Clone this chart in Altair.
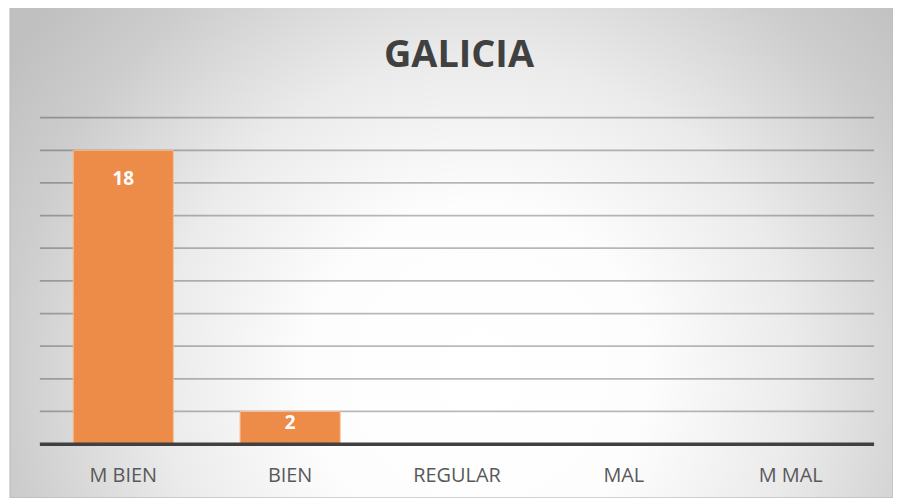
import altair as alt
import pandas as pd

categories = ["M BIEN", "BIEN", "REGULAR", "MAL", "M MAL"]
values = [18, 2, 0, 0, 0]
grid_values = [2, 4, 6, 8, 10, 12, 14, 16, 18, 20]
title_text = "GALICIA"

df = pd.DataFrame({"cat": categories, "v": values})
gdf = pd.DataFrame({"g": grid_values})

FONT = "Open Sans"

bg_gradient = {
    "gradient": "radial",
    "x1": 0.53, "y1": 0.64, "r1": 0,
    "x2": 0.53, "y2": 0.64, "r2": 0.64,
    "stops": [
        {"offset": 0.0, "color": "#ffffff"},
        {"offset": 0.3, "color": "#fdfdfd"},
        {"offset": 0.56, "color": "#ebebeb"},
        {"offset": 0.83, "color": "#cdcdcd"},
        {"offset": 1.0, "color": "#c0c0c0"},
    ],
}

yscale = alt.Scale(domain=[0, 20], nice=False)

background = alt.Chart(alt.Data(values=[{"k": 0}])).mark_rect(
    fill=bg_gradient, stroke="#b8b8b8", strokeWidth=1
).encode(
    x=alt.value(-30), x2=alt.value(857), y=alt.value(-113), y2=alt.value(382)
)

title = alt.Chart(alt.Data(values=[{"t": title_text}])).mark_text(
    font=FONT, fontSize=38, fontWeight="bold", color="#404040",
    baseline="alphabetic", align="center"
).encode(x=alt.value(421), y=alt.value(-51), text="t:N")

grid = alt.Chart(gdf).mark_rule(color="#000000", strokeOpacity=0.27, strokeWidth=1.75).encode(
    y=alt.Y("g:Q", scale=yscale, axis=None)
)

xenc = alt.X(
    "cat:N", sort=categories, title=None,
    scale=alt.Scale(paddingInner=0.4, paddingOuter=0.2),
    axis=alt.Axis(labelAngle=0, labelFont=FONT, labelFontSize=20, labelColor="#595959",
                  labelPadding=22, ticks=False, domain=False, grid=False, zindex=1),
)

bars = alt.Chart(df).mark_bar(color="#ED8C48", stroke="#F6BE95", strokeWidth=1).encode(
    x=xenc,
    y=alt.Y("v:Q", scale=yscale, title=None, axis=None),
)

labels = alt.Chart(df).transform_filter("datum.v > 0").transform_calculate(
    lab="datum.v - (datum.v > 5 ? 1.22 : 0.14)"
).mark_text(color="white", font=FONT, fontSize=19, fontWeight="bold", baseline="top").encode(
    x=alt.X("cat:N", sort=categories),
    y=alt.Y("lab:Q", scale=yscale),
    text="v:Q",
)

baseline = alt.Chart(alt.Data(values=[{"k": 0}])).mark_rule(color="#404040", strokeWidth=3.5).encode(
    y=alt.datum(0, scale=yscale)
)

chart = alt.layer(background, title, grid, bars, labels, baseline).properties(
    width=838, height=328,
    autosize=alt.AutoSizeParams(type="none"),
    padding={"left": 32, "top": 109, "right": 19, "bottom": 53},
).configure(background="white").configure_view(stroke=None)

chart.save("out.html", embed_options={"renderer": "svg", "actions": False})
